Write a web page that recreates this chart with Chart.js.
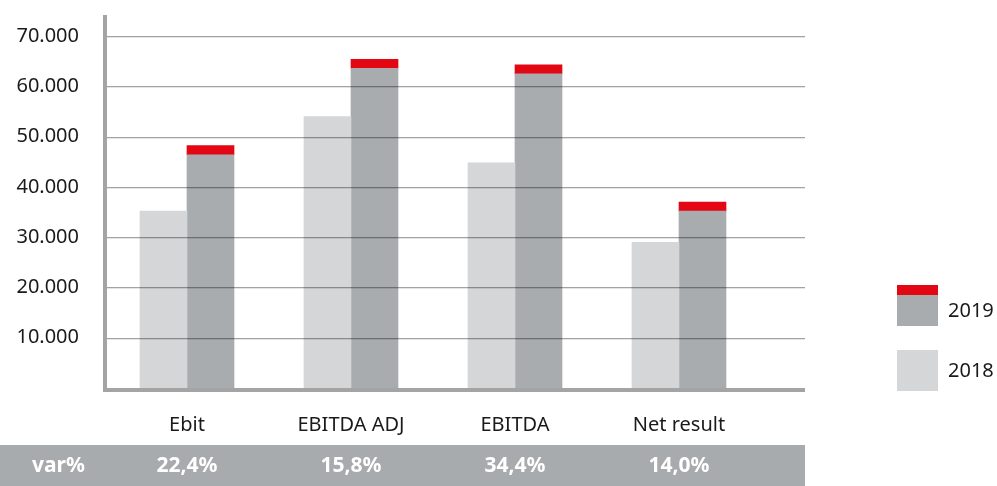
<!DOCTYPE html>
<html>
<head>
<meta charset="utf-8">
<script src="https://cdn.jsdelivr.net/npm/chart.js@4.4.1/dist/chart.umd.min.js"></script>
<style>
  body { margin: 0; background: #ffffff; }
  #wrap { position: relative; width: 997px; height: 486px; }
  .legend-item { position: absolute; left: 897px; width: 41px; height: 41px; }
  .legend-label { position: absolute; left: 948px; font: 20px "Noto Sans", sans-serif; color: #1a1a1a; line-height: 24px; }
</style>
</head>
<body>
<div id="wrap">
  <canvas id="chart" width="997" height="486"></canvas>
  <div class="legend-item" style="top:285px; background: linear-gradient(#e30613 0 10px, #a9acae 10px 41px);"></div>
  <div class="legend-label" style="top:298px;">2019</div>
  <div class="legend-item" style="top:350px; background:#d5d6d8;"></div>
  <div class="legend-label" style="top:358px;">2018</div>
</div>
<script>
const categories = ["Ebit", "EBITDA ADJ", "EBITDA", "Net result"];
const values2018 = [35200, 54000, 44800, 29000];
const values2019 = [46400, 63600, 62500, 35200];
const cap2019 = [1800, 1800, 1800, 1800];
const varPercent = ["22,4%", "15,8%", "34,4%", "14,0%"];
const yTicks = [10000, 20000, 30000, 40000, 50000, 60000, 70000];

const FONT = '"Noto Sans", sans-serif';
const AXIS_GREY = '#a4a4a4';

function formatThousands(v) {
    return String(v).replace(/\B(?=(\d{3})+(?!\d))/g, '.');
}

// gridlines go on top of the bars and run past the last category
const overlay = {
    id: 'overlay',
    afterDatasetsDraw(chart) {
        const { ctx, chartArea, scales } = chart;
        const right = chartArea.right + 44;
        ctx.save();
        yTicks.forEach(v => {
            const y = Math.round(scales.y.getPixelForValue(v)) + 0.5;
            ctx.strokeStyle = 'rgba(0,0,0,0.36)';
            ctx.lineWidth = 1;
            ctx.beginPath();
            ctx.moveTo(chartArea.left + 2, y);
            ctx.lineTo(right, y);
            ctx.stroke();
            ctx.strokeStyle = 'rgba(0,0,0,0.1)';
            ctx.beginPath();
            ctx.moveTo(chartArea.left + 2, y + 1);
            ctx.lineTo(right, y + 1);
            ctx.stroke();
        });
        // x axis line
        ctx.fillStyle = AXIS_GREY;
        ctx.fillRect(chartArea.left - 2, chartArea.bottom, right - chartArea.left + 2, 4);
        ctx.restore();
    },
    afterDraw(chart) {
        const { ctx, chartArea, scales } = chart;
        const right = chartArea.right + 44;
        ctx.save();
        ctx.fillStyle = '#a8abad';
        ctx.fillRect(0, 445, right, 41);
        ctx.fillStyle = '#ffffff';
        ctx.font = 'bold 21px ' + FONT;
        ctx.textBaseline = 'middle';
        ctx.textAlign = 'left';
        ctx.fillText('var%', 32, 466);
        ctx.textAlign = 'center';
        varPercent.forEach((txt, i) => {
            ctx.fillText(txt, scales.x.getPixelForValue(i), 466);
        });
        ctx.restore();
    }
};

new Chart(document.getElementById('chart'), {
    type: 'bar',
    data: {
        labels: categories,
        datasets: [
            { label: '2018', data: values2018, backgroundColor: '#d5d6d8', stack: 's2018' },
            { label: '2019', data: values2019, backgroundColor: '#a9acae', stack: 's2019' },
            { label: '2019 cap', data: cap2019, backgroundColor: '#e30613', stack: 's2019' }
        ]
    },
    options: {
        responsive: false,
        animation: false,
        layout: { padding: { top: 17, right: 236, left: 0, bottom: 0 } },
        datasets: {
            bar: { barThickness: 47, borderWidth: 0 }
        },
        scales: {
            x: {
                stacked: true,
                afterFit(scale) { scale.height = 98; },
                grid: { display: false, drawTicks: false },
                border: { display: false },
                ticks: { color: '#1a1a1a', font: { family: FONT, size: 20 }, padding: 25, maxRotation: 0 }
            },
            y: {
                stacked: true,
                min: 0,
                max: 73800,
                afterBuildTicks(scale) { scale.ticks = yTicks.map(v => ({ value: v })); },
                afterFit(scale) {
                    scale.width = 105;
                    scale.paddingTop = 0;
                    scale.paddingBottom = 0;
                },
                grid: { display: false, drawTicks: false },
                border: { display: true, color: AXIS_GREY, width: 4 },
                ticks: {
                    padding: 26,
                    color: '#1a1a1a',
                    font: { family: FONT, size: 20 },
                    callback: v => formatThousands(v)
                }
            }
        },
        plugins: {
            legend: { display: false },
            tooltip: { enabled: false }
        }
    },
    plugins: [overlay]
});
</script>
</body>
</html>
